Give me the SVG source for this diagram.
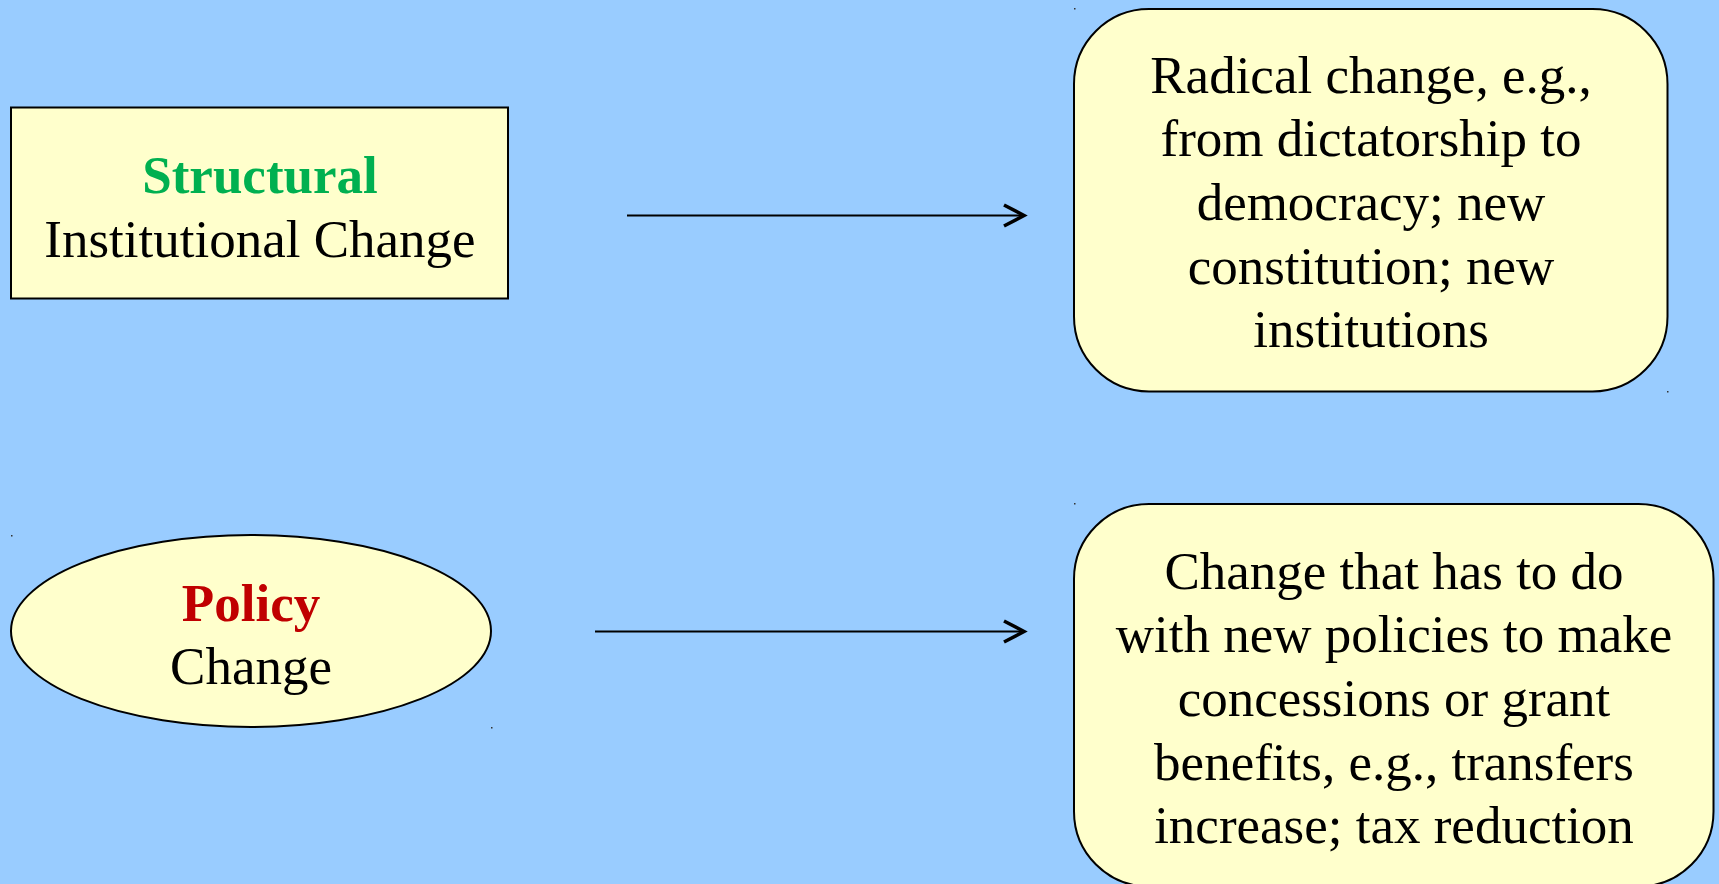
<svg xmlns="http://www.w3.org/2000/svg" width="1719" height="884" viewBox="0 0 1719 884">
<style>
.box{fill:#FFFFCC;stroke:#000;stroke-width:2}
.t{font-family:"Liberation Serif","Times New Roman",serif;font-size:53px;fill:#000;text-anchor:middle}
.b{font-weight:bold}
.conn{stroke:#000;stroke-width:2;fill:none}
.dot{fill:#333}
</style>
<defs>
<marker id="arr" markerUnits="userSpaceOnUse" viewBox="-2 -14 26 28" refX="21" refY="0" markerWidth="26" markerHeight="28" orient="auto" overflow="visible">
<path d="M0,-10.5 L20,0 L0,10.5" fill="none" stroke="#000" stroke-width="3.5"/>
</marker>
</defs>
<rect width="1719" height="884" fill="#99CCFF"/>
<g id="structural">
<rect class="box" x="11" y="107.5" width="497" height="191"/>
<text class="t b" x="260" y="193" fill="#00B050" style="fill:#00B050">Structural</text>
<text class="t" x="260" y="256.5">Institutional Change</text>
</g>
<g id="policy">
<ellipse class="box" cx="251" cy="631" rx="240" ry="96"/>
<text class="t b" x="251" y="620.5" style="fill:#C00000">Policy</text>
<text class="t" x="251" y="684">Change</text>
</g>
<g id="radical">
<rect class="box" x="1074" y="9" width="593.5" height="382.5" rx="75" ry="75"/>
<text class="t" x="1371" y="92.5">Radical change, e.g.,</text>
<text class="t" x="1371" y="156">from dictatorship to</text>
<text class="t" x="1371" y="220">democracy; new</text>
<text class="t" x="1371" y="283.5">constitution; new</text>
<text class="t" x="1371" y="347">institutions</text>
</g>
<g id="policy-desc">
<rect class="box" x="1074" y="504" width="639.5" height="382.5" rx="75" ry="75"/>
<text class="t" x="1394" y="588.5">Change that has to do</text>
<text class="t" x="1394" y="652">with new policies to make</text>
<text class="t" x="1394" y="716">concessions or grant</text>
<text class="t" x="1394" y="779.5">benefits, e.g., transfers</text>
<text class="t" x="1394" y="843">increase; tax reduction</text>
</g>
<g id="connectors">
<line class="conn" x1="627" y1="215.5" x2="1025" y2="215.5" marker-end="url(#arr)"/>
<line class="conn" x1="595" y1="631.5" x2="1025" y2="631.5" marker-end="url(#arr)"/>
</g>
<g id="handles">
<rect class="dot" x="1074" y="8" width="1.5" height="1.5"/>
<rect class="dot" x="1667" y="391" width="1.5" height="1.5"/>
<rect class="dot" x="11" y="535" width="1.5" height="1.5"/>
<rect class="dot" x="491" y="727" width="1.5" height="1.5"/>
<rect class="dot" x="1074" y="503" width="1.5" height="1.5"/>
</g>
</svg>
